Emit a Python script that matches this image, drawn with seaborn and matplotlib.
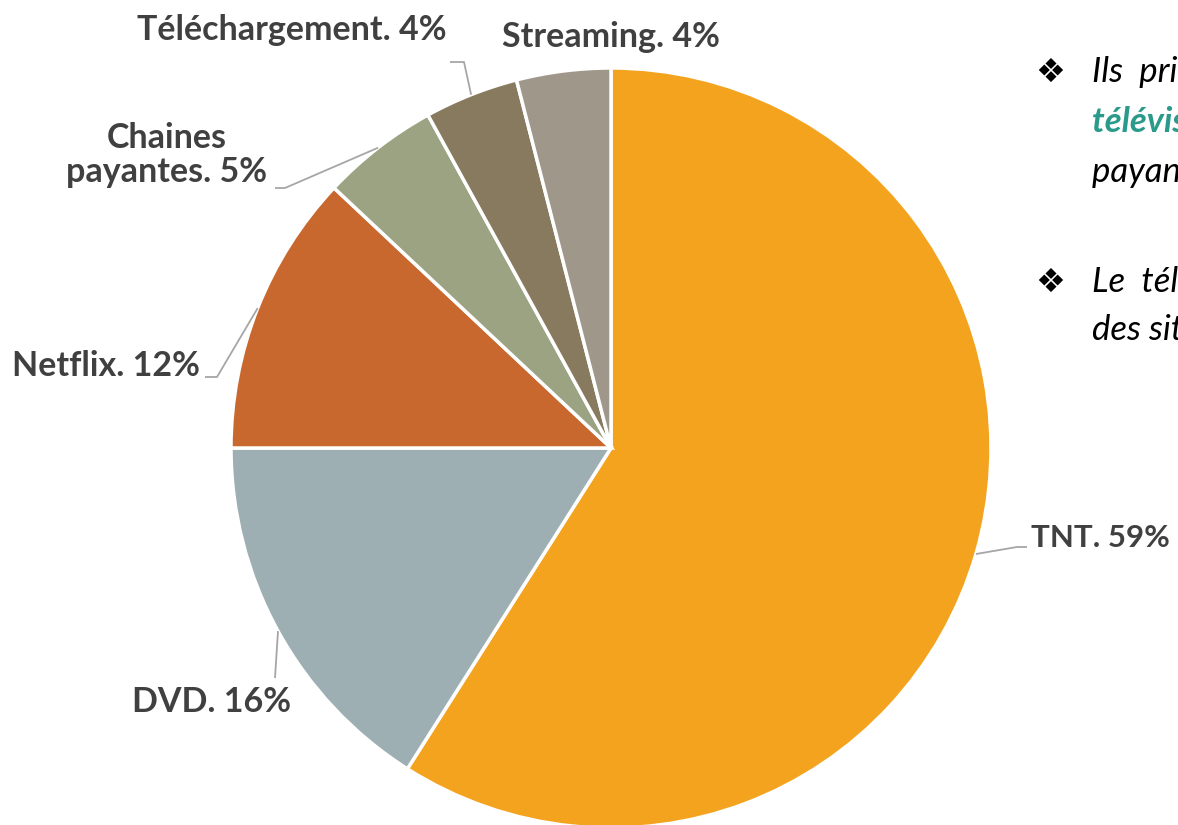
import numpy as np
import matplotlib
matplotlib.use("Agg")
import matplotlib.pyplot as plt
import seaborn as sns

# Data
categories = ["TNT", "DVD", "Netflix", "Chaines\npayantes", "Téléchargement", "Streaming"]
shares = [59, 16, 12, 5, 4, 4]
colors = ["#F4A31F", "#9EAFB4", "#C8682F", "#9BA383", "#877A5E", "#A0978B"]

sns.set_theme(style="white")
plt.rcParams["font.family"] = ["Lato", "DejaVu Sans"]

W, H = 1178, 825
CX, CY, R = 611, 448, 380

fig = plt.figure(figsize=(W / 100, H / 100), dpi=100)
fig.patch.set_facecolor("white")
ax = fig.add_axes([(CX - R) / W, (H - CY - R) / H, 2 * R / W, 2 * R / H])
ax.axis("off")

wedges, _ = ax.pie(shares, colors=colors, startangle=90, counterclock=False,
                   radius=1.0, center=(0, 0),
                   wedgeprops=dict(edgecolor="white", linewidth=2.5))
for w in wedges:
    w.set_clip_on(False)
ax.set_xlim(-1, 1)
ax.set_ylim(-1, 1)
ax.set_aspect("equal")


def to_data(px, py):
    return (px - CX) / R, (CY - py) / R


# label placement (pixel layout), font size and leader-line elbows
label_pos = [(1031, 538, "left"), (212, 702, "center"), (200, 366, "right"),
             (167, 155, "center"), (292, 30, "center"), (611, 37, "center")]
label_size = [22.5, 24.5, 24.5, 24.5, 24.5, 24.5]
leader_pts = [[(1017, 547), (1027, 547)],
              [(275, 678)],
              [(217, 377), (205, 377)],
              [(285, 188), (275, 188)],
              [(464, 62), (450, 62)],
              None]

total = sum(shares)
cum = 0
for cat, val, (lx, ly, ha), fs, pts in zip(categories, shares, label_pos,
                                            label_size, leader_pts):
    mid = 90 - (cum + val / 2) / total * 360
    cum += val
    if pts is not None:
        ex, ey = np.cos(np.radians(mid)), np.sin(np.radians(mid))
        xs = [ex] + [to_data(*p)[0] for p in pts]
        ys = [ey] + [to_data(*p)[1] for p in pts]
        ax.plot(xs, ys, color="#A6A6A6", lw=1.3, clip_on=False, solid_capstyle="butt")
    tx, ty = to_data(lx, ly)
    ax.text(tx, ty, f"{cat}. {val}%", ha=ha, va="center", multialignment="center",
            fontsize=fs, fontweight="bold", color="#404040", clip_on=False,
            linespacing=1.1)

# side notes
bullet = "\u2756"
notes = [(72, "Ils  privilégient  la", "black", "normal"),
         (122, "télévision numérique", "#2A9A8A", "bold"),
         (172, "payante et gratuite", "black", "normal"),
         (282, "Le  téléchargement  et", "black", "normal"),
         (330, "des sites de streaming", "black", "normal")]
for y, txt, col, wt in notes:
    fig.text(1092 / W, 1 - y / H, txt, ha="left", va="center", fontsize=25,
             style="italic", fontweight=wt, color=col)
for y in (72, 282):
    fig.text(1050 / W, 1 - y / H, bullet, ha="center", va="center", fontsize=24,
             color="black", family=["DejaVu Sans"])

fig.savefig("out.png", dpi=100, facecolor="white")
